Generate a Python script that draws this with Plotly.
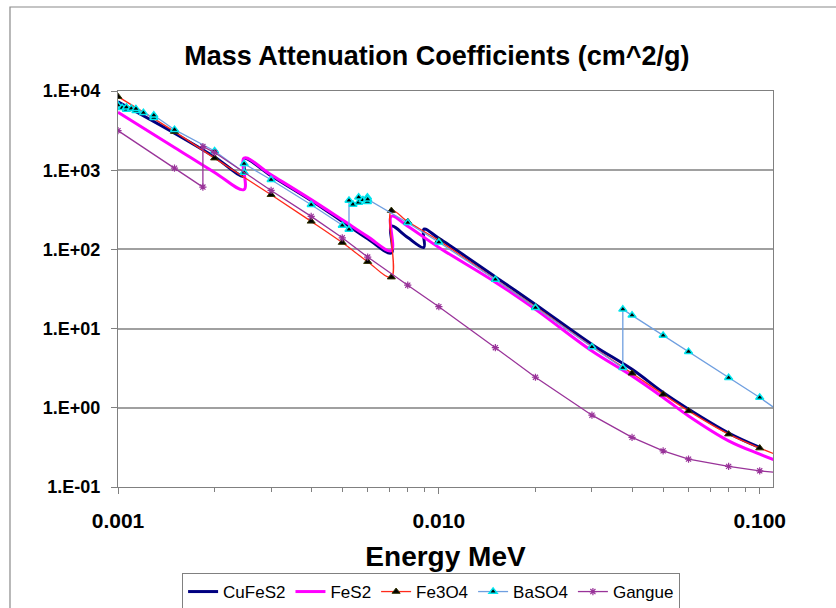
import plotly.graph_objects as go

# Photon energies (MeV) and mass attenuation coefficients (cm^2/g)
cufes2_e = [0.001, 0.0015, 0.002, 0.002472, 0.002472, 0.003, 0.004, 0.005, 0.006,
            0.007112, 0.007112, 0.008, 0.008979, 0.008979, 0.01, 0.015, 0.02, 0.03,
            0.04, 0.05, 0.06, 0.08, 0.1]
cufes2_mu = [7300, 2930, 1470, 840, 1400, 850, 415, 225, 136,
             90, 196, 141, 106, 180, 138, 45, 20.2, 6.32,
             3.06, 1.56, 0.96, 0.48, 0.316]

fes2_e = [0.001, 0.0015, 0.002, 0.002472, 0.002472, 0.003, 0.004, 0.005, 0.006,
          0.007112, 0.007112, 0.008, 0.01, 0.015, 0.02, 0.03, 0.04, 0.05, 0.06,
          0.08, 0.1, 0.15]
fes2_mu = [5390, 1940, 937, 570, 1420, 875, 425, 236, 145,
           96, 262, 196, 106, 38.6, 17.5, 5.2, 2.52, 1.35, 0.79,
           0.383, 0.26, 0.14]

fe3o4_e = [0.001, 0.0015, 0.002, 0.003, 0.004, 0.005, 0.006, 0.007112, 0.007112,
           0.008, 0.01, 0.015, 0.02, 0.03, 0.04, 0.05, 0.06, 0.08, 0.1, 0.15]
fe3o4_mu = [8480, 3070, 1420, 490, 226, 122, 70, 44.6, 309,
            224, 129, 42, 18.8, 5.95, 2.73, 1.48, 0.914, 0.465, 0.31, 0.167]

baso4_e = [0.001, 0.00103, 0.0010624, 0.0010624, 0.0011, 0.0011372, 0.0011372,
           0.0012, 0.0012928, 0.0012928, 0.0015, 0.002, 0.002472, 0.002472,
           0.003, 0.004, 0.005, 0.005247, 0.005247, 0.0054, 0.005624, 0.005624,
           0.0058, 0.005989, 0.005989, 0.006, 0.008, 0.01, 0.015, 0.02, 0.03,
           0.03744, 0.03744, 0.04, 0.05, 0.06, 0.08, 0.1, 0.15]
baso4_mu = [6600, 6150, 5850, 6250, 6000, 5650, 5950,
            5300, 4600, 4950, 3250, 1750, 935, 1205,
            757, 366, 200, 178, 415, 370, 392, 455,
            421, 400, 455, 430, 217, 123, 41.7, 18.3, 5.85,
            3.21, 17.5, 14.7, 8.2, 5.12, 2.40, 1.35, 0.42]

gangue_e = [0.001, 0.0015, 0.001839, 0.001839, 0.002, 0.003, 0.004, 0.005, 0.006,
            0.008, 0.01, 0.015, 0.02, 0.03, 0.04, 0.05, 0.06, 0.08, 0.1, 0.15]
gangue_mu = [3160, 1060, 612, 1990, 1670, 555, 261, 140, 80,
             35.3, 18.9, 5.74, 2.43, 0.807, 0.423, 0.286, 0.225, 0.182, 0.160, 0.137]

y_tick_vals = [0.1, 1, 10, 100, 1000, 10000]
y_tick_text = ["1.E-01", "1.E+00", "1.E+01", "1.E+02", "1.E+03", "1.E+04"]
x_tick_vals = [0.001, 0.01, 0.1]
x_tick_text = ["0.001", "0.010", "0.100"]

FONT = "Liberation Sans, Arial, sans-serif"

fig = go.Figure()

fig.add_trace(go.Scatter(
    x=cufes2_e, y=cufes2_mu, name="CuFeS2", mode="lines",
    line=dict(color="#000080", width=3, shape="spline", smoothing=1),
))
fig.add_trace(go.Scatter(
    x=fes2_e, y=fes2_mu, name="FeS2", mode="lines",
    line=dict(color="#ff00ff", width=3, shape="spline", smoothing=1),
))
fig.add_trace(go.Scatter(
    x=fe3o4_e, y=fe3o4_mu, name="Fe3O4", mode="lines+markers",
    line=dict(color="#ff2a1a", width=1.3, shape="spline", smoothing=1),
    marker=dict(symbol="triangle-up", size=7, color="#000000",
                line=dict(color="#333300", width=1)),
))
fig.add_trace(go.Scatter(
    x=baso4_e, y=baso4_mu, name="BaSO4", mode="lines+markers",
    line=dict(color="#6f9fe0", width=1.3),
    marker=dict(symbol="triangle-up", size=7, color="#000000",
                line=dict(color="#00e5ee", width=1.5)),
))
fig.add_trace(go.Scatter(
    x=gangue_e, y=gangue_mu, name="Gangue", mode="lines+markers",
    line=dict(color="#993399", width=1.3),
    marker=dict(symbol="asterisk-open", size=6,
                line=dict(color="#993399", width=1.2)),
))

# outer chart frame
fig.add_shape(type="rect", xref="paper", yref="paper",
              x0=-0.1649, x1=1.11, y0=-0.32, y1=1.2121,
              line=dict(color="#8a8a8a", width=1.2), fillcolor="rgba(0,0,0,0)",
              layer="below")

fig.update_layout(
    width=836, height=608,
    margin=dict(l=118, r=63, t=91, b=121, autoexpand=False),
    paper_bgcolor="white", plot_bgcolor="white",
    font=dict(family=FONT, color="black"),
    title=dict(text="Mass Attenuation Coefficients (cm^2/g)",
               font=dict(family=FONT, size=27, weight="bold", color="black"),
               x=0.5225, xanchor="center", y=0.909, yanchor="middle"),
    xaxis=dict(
        type="log", range=[-3, -0.9586],
        tickvals=x_tick_vals, ticktext=x_tick_text,
        tickfont=dict(family=FONT, size=21, weight="bold"),
        ticks="outside", ticklen=6, tickcolor="#808080", ticklabelstandoff=9,
        minor=dict(ticks="outside", ticklen=4, tickcolor="#808080",
                   dtick="D1", showgrid=False),
        showline=True, linecolor="#808080", linewidth=1.2, mirror=True,
        showgrid=False, zeroline=False,
        title=dict(text="Energy MeV", standoff=15,
                   font=dict(family=FONT, size=28, weight="bold")),
    ),
    yaxis=dict(
        type="log", range=[-1, 4],
        tickvals=y_tick_vals, ticktext=y_tick_text,
        tickfont=dict(family=FONT, size=18, weight="bold"),
        ticks="outside", ticklen=6, tickcolor="#808080", ticklabelstandoff=7,
        showline=True, linecolor="#808080", linewidth=1.2, mirror=True,
        showgrid=True, gridcolor="#a0a0a0", gridwidth=1.5, zeroline=False,
    ),
    legend=dict(
        orientation="h", x=0.478, xanchor="center", y=-0.2172, yanchor="top",
        bordercolor="#808080", borderwidth=1, bgcolor="white",
        font=dict(family=FONT, size=17), itemwidth=30,
    ),
    showlegend=True,
)

fig.write_html("out.html")
